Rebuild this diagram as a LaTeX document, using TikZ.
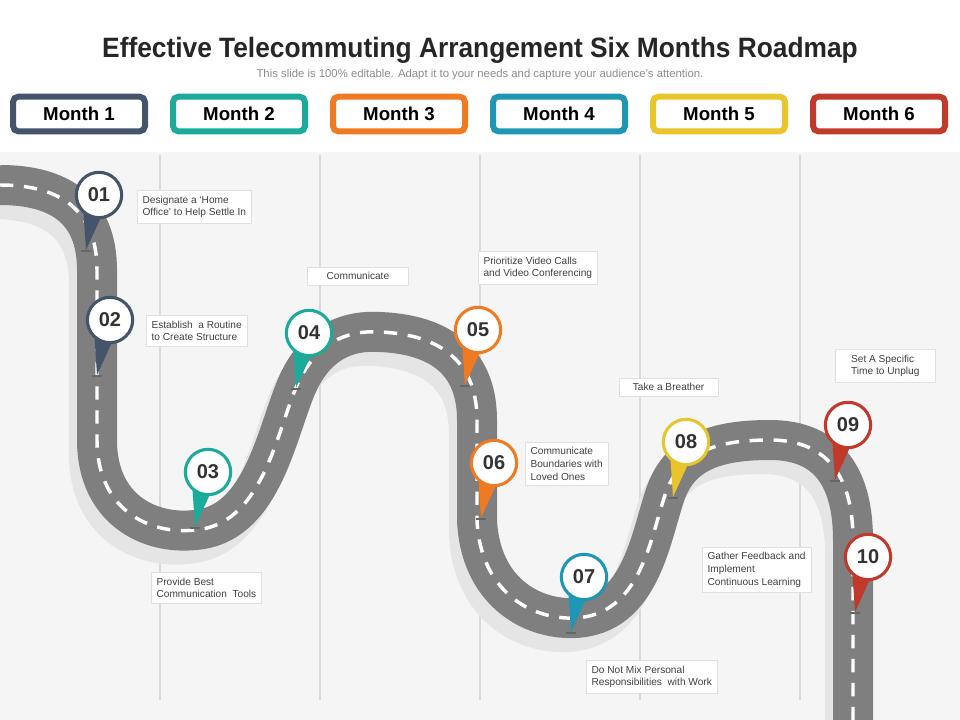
\documentclass[tikz,border=0pt]{standalone}
\usepackage{fontspec}
\setmainfont{Liberation Sans}
\usetikzlibrary{calc}
\definecolor{mdark}{HTML}{44546A}
\definecolor{mteal}{HTML}{1AAB9B}
\definecolor{morange}{HTML}{F07A22}
\definecolor{mblue}{HTML}{1E96B4}
\definecolor{myellow}{HTML}{E8C52A}
\definecolor{mred}{HTML}{C0392B}
\definecolor{road}{HTML}{7F7F7F}
\begin{document}
\begin{tikzpicture}[x=0.75pt,y=-0.75pt]

  \tikzset{
    monthbox/.style={
      draw=#1,
      line width=4.5pt,
      rounded corners=4pt,
      fill=white,
      minimum width=99pt,
      minimum height=26pt,
      font=\bfseries\fontsize{14}{14}\selectfont
    },
    pinball/.style={
      circle,
      draw=#1,
      line width=2.3pt,
      fill=white,
      minimum size=34pt,
      inner sep=0pt,
      font=\bfseries\fontsize{15}{15}\selectfont,
      text=black!80
    },
    notebox/.style={
      draw=black!12,
      fill=white,
      align=left,
      inner sep=4pt,
      font=\fontsize{7.6}{9.5}\selectfont,
      text=black!75
    }
  }

  \useasboundingbox (0,0) rectangle (960,720);
  \fill[white] (0,0) rectangle (960,720);
  \fill[black!4] (0,152) rectangle (960,720);
  \foreach \gx in {160,320,...,800}
    \draw[black!15, line width=1pt] (\gx,155) -- (\gx,700);

  % title
  \node[font=\bfseries\fontsize{21}{21}\selectfont, text=black!85, xscale=0.94] (title) at (480,50)
    {Effective Telecommuting Arrangement Six Months Roadmap};
  \node[font=\fontsize{8.5}{9}\selectfont, text=black!45] (subtitle) at (480,75)
    {This slide is 100\% editable. Adapt it to your needs and capture your audience's attention.};

  % months
  \foreach \i/\c in {1/mdark,2/mteal,3/morange,4/mblue,5/myellow,6/mred}
    \node[monthbox=\c] (month\i) at ({160*\i-81},114) {Month \i};

  % road
  \def\roadpath{(0,185) .. controls (60,185) and (97,210) .. (97,270) -- (97,440)
    .. controls (97,510) and (150,535) .. (195,530)
    .. controls (260,525) and (275,440) .. (295,390)
    .. controls (315,340) and (350,330) .. (380,332)
    .. controls (450,335) and (477,370) .. (477,420) -- (477,520)
    .. controls (480,590) and (530,620) .. (575,618)
    .. controls (640,615) and (650,540) .. (665,495)
    .. controls (680,450) and (720,440) .. (770,440)
    .. controls (830,440) and (853,480) .. (853,540) -- (853,725)}
  \begin{scope}
    \clip (0,152) rectangle (960,720);
    \draw[black!10, line width=30pt, shift={(-8,14)}] \roadpath;
    \draw[road, line width=30pt] \roadpath;
    \draw[white, line width=2.6pt, dash pattern=on 10pt off 8pt] \roadpath;
  \end{scope}

  % pins
  \foreach \n/\c/\px/\py in {01/mdark/99/195, 02/mdark/110/320, 03/mteal/208/472,
      04/mteal/309/333, 05/morange/478/330, 06/morange/494/463, 07/mblue/584/577,
      08/myellow/686/442, 09/mred/848/425, 10/mred/868/557} {
    \coordinate (tip\n) at (\px-13,\py+55);
    \fill[\c] (\px-16,\py+10) -- (tip\n) -- (\px+3,\py+20) -- cycle;
    \fill[black!60] ($(tip\n)+(-5,0)$) rectangle ($(tip\n)+(5,2)$);
    \node[pinball=\c] (pin\n) at (\px,\py) {\n};
  }

  % notes
  \node[notebox, anchor=west] (note01) at (137,207) {Designate a `Home\\Office' to Help Settle In};
  \node[notebox, anchor=west] (note02) at (146,331) {Establish~ a Routine\\to Create Structure};
  \node[notebox, anchor=west, minimum width=76pt] (note04) at (307,276) {Communicate};
  \node[notebox, anchor=west] (note05) at (478,268) {Prioritize Video Calls\\and Video Conferencing};
  \node[notebox, anchor=west] (note03) at (151,588) {Provide Best\\Communication~ Tools};
  \node[notebox, anchor=west] (note06) at (525,464) {Communicate\\Boundaries with\\Loved Ones};
  \node[notebox, anchor=west, minimum width=74pt] (note08) at (619,387) {Take a Breather};
  \node[notebox, anchor=west, minimum width=75pt] (note09) at (835,366) {Set A Specific\\Time to Unplug};
  \node[notebox, anchor=west] (note10) at (702,570) {Gather Feedback and\\Implement\\Continuous Learning};
  \node[notebox, anchor=west] (note07) at (586,677) {Do Not Mix Personal\\Responsibilities~ with Work};

\end{tikzpicture}
\end{document}
